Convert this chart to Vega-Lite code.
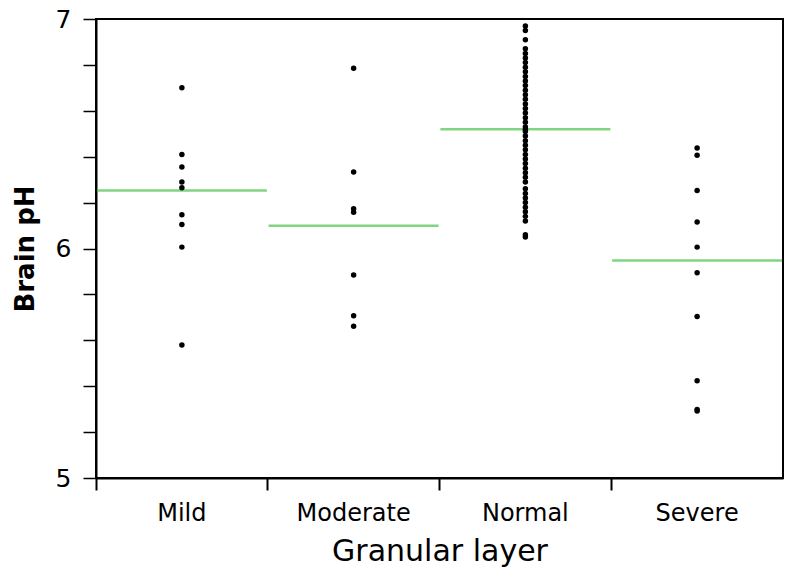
{
  "$schema": "https://vega.github.io/schema/vega-lite/v6.json",
  "autosize": {"type": "none"},
  "width": 687,
  "height": 459,
  "padding": {"left": 96, "top": 19, "right": 17, "bottom": 104},
  "background": "white",
  "config": {
    "view": {"stroke": "black", "strokeWidth": 2},
    "font": "DejaVu Sans",
    "axis": {"grid": false, "domainColor": "black", "domainWidth": 2, "tickColor": "black", "tickWidth": 1.5, "labelColor": "black", "titleColor": "black", "labelFont": "DejaVu Sans", "titleFont": "DejaVu Sans"}
  },
  "datasets": {
    "points": [
      {"layer": "Mild", "ph": 6.70},
      {"layer": "Mild", "ph": 6.41},
      {"layer": "Mild", "ph": 6.355},
      {"layer": "Mild", "ph": 6.29},
      {"layer": "Mild", "ph": 6.265},
      {"layer": "Mild", "ph": 6.147},
      {"layer": "Mild", "ph": 6.105},
      {"layer": "Mild", "ph": 6.006},
      {"layer": "Mild", "ph": 5.58},
      {"layer": "Moderate", "ph": 6.785},
      {"layer": "Moderate", "ph": 6.333},
      {"layer": "Moderate", "ph": 6.173},
      {"layer": "Moderate", "ph": 6.158},
      {"layer": "Moderate", "ph": 5.885},
      {"layer": "Moderate", "ph": 5.707},
      {"layer": "Moderate", "ph": 5.661},
      {"layer": "Normal", "ph": 6.97},
      {"layer": "Normal", "ph": 6.95},
      {"layer": "Normal", "ph": 6.91},
      {"layer": "Normal", "ph": 6.87},
      {"layer": "Normal", "ph": 6.85},
      {"layer": "Normal", "ph": 6.83},
      {"layer": "Normal", "ph": 6.81},
      {"layer": "Normal", "ph": 6.79},
      {"layer": "Normal", "ph": 6.77},
      {"layer": "Normal", "ph": 6.75},
      {"layer": "Normal", "ph": 6.73},
      {"layer": "Normal", "ph": 6.71},
      {"layer": "Normal", "ph": 6.69},
      {"layer": "Normal", "ph": 6.67},
      {"layer": "Normal", "ph": 6.65},
      {"layer": "Normal", "ph": 6.63},
      {"layer": "Normal", "ph": 6.61},
      {"layer": "Normal", "ph": 6.59},
      {"layer": "Normal", "ph": 6.57},
      {"layer": "Normal", "ph": 6.55},
      {"layer": "Normal", "ph": 6.53},
      {"layer": "Normal", "ph": 6.52},
      {"layer": "Normal", "ph": 6.51},
      {"layer": "Normal", "ph": 6.49},
      {"layer": "Normal", "ph": 6.47},
      {"layer": "Normal", "ph": 6.45},
      {"layer": "Normal", "ph": 6.43},
      {"layer": "Normal", "ph": 6.41},
      {"layer": "Normal", "ph": 6.39},
      {"layer": "Normal", "ph": 6.37},
      {"layer": "Normal", "ph": 6.35},
      {"layer": "Normal", "ph": 6.33},
      {"layer": "Normal", "ph": 6.31},
      {"layer": "Normal", "ph": 6.29},
      {"layer": "Normal", "ph": 6.26},
      {"layer": "Normal", "ph": 6.24},
      {"layer": "Normal", "ph": 6.22},
      {"layer": "Normal", "ph": 6.20},
      {"layer": "Normal", "ph": 6.18},
      {"layer": "Normal", "ph": 6.16},
      {"layer": "Normal", "ph": 6.14},
      {"layer": "Normal", "ph": 6.12},
      {"layer": "Normal", "ph": 6.06},
      {"layer": "Normal", "ph": 6.05},
      {"layer": "Severe", "ph": 6.438},
      {"layer": "Severe", "ph": 6.406},
      {"layer": "Severe", "ph": 6.253},
      {"layer": "Severe", "ph": 6.115},
      {"layer": "Severe", "ph": 6.006},
      {"layer": "Severe", "ph": 5.894},
      {"layer": "Severe", "ph": 5.704},
      {"layer": "Severe", "ph": 5.424},
      {"layer": "Severe", "ph": 5.292},
      {"layer": "Severe", "ph": 5.298}
    ],
    "means": [
      {"layer": "Mild", "ph": 6.253},
      {"layer": "Moderate", "ph": 6.099},
      {"layer": "Normal", "ph": 6.52},
      {"layer": "Severe", "ph": 5.948}
    ]
  },
  "encoding": {
    "x": {
      "field": "layer", "type": "nominal",
      "scale": {"domain": ["Mild", "Moderate", "Normal", "Severe"], "paddingInner": 0, "paddingOuter": 0},
      "axis": {"title": "Granular layer", "labelAngle": 0, "labelFontSize": 24, "labelPadding": 11, "tickSize": 12, "tickWidth": 2, "bandPosition": 0, "titleFontSize": 30, "titleFontWeight": "normal", "titlePadding": 11}
    },
    "y": {
      "field": "ph", "type": "quantitative",
      "scale": {"domain": [5, 7], "nice": false, "zero": false},
      "axis": {"title": "Brain pH", "values": [5, 5.2, 5.4, 5.6, 5.8, 6, 6.2, 6.4, 6.6, 6.8, 7], "labelExpr": "abs(datum.value - round(datum.value)) < 0.01 ? format(datum.value, 'd') : ''", "labelFontSize": 25, "labelPadding": 12, "tickSize": 13, "titleFontSize": 26, "titleFontWeight": "bold", "titlePadding": 17}
    }
  },
  "layer": [
    {
      "data": {"name": "means"},
      "mark": {"type": "tick", "color": "#4cc24c", "thickness": 2.5, "size": 170, "orient": "horizontal"}
    },
    {
      "data": {"name": "points"},
      "mark": {"type": "circle", "color": "black", "opacity": 1, "size": 30}
    }
  ]
}
